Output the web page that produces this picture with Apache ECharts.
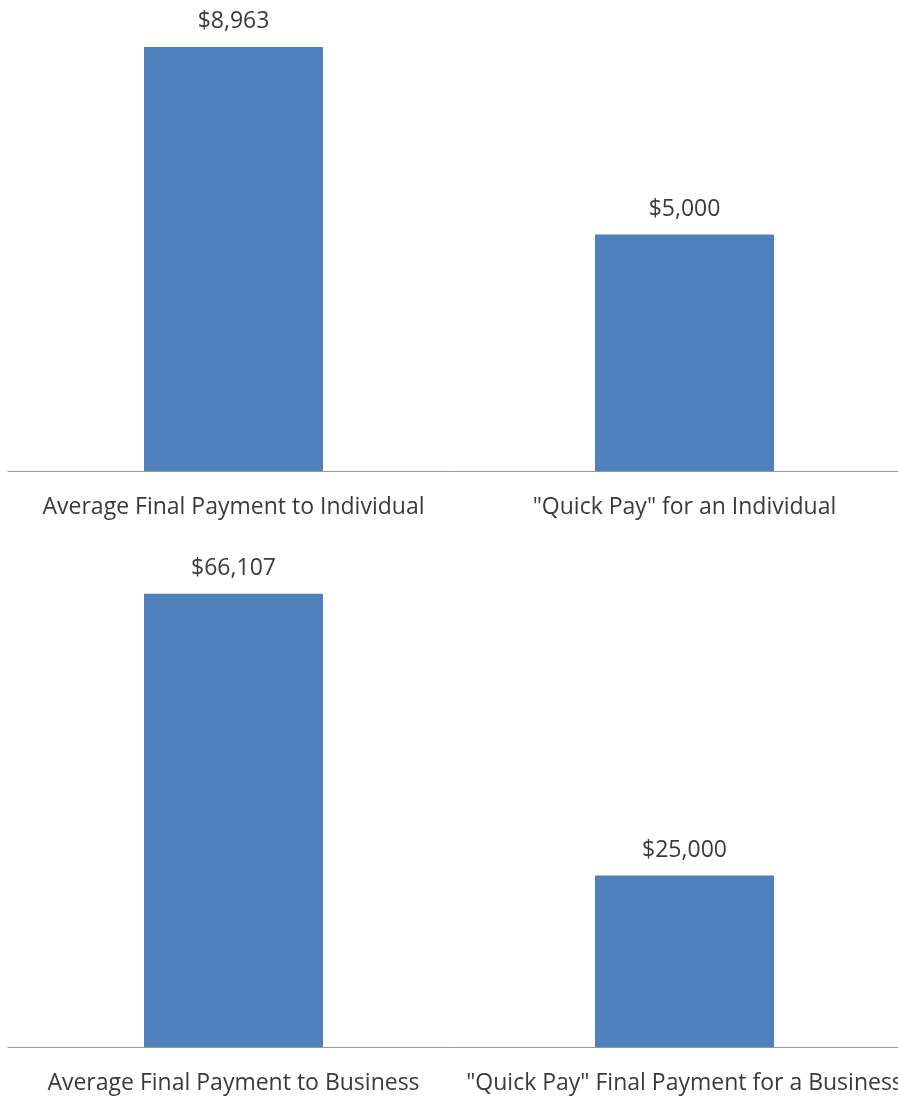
<!DOCTYPE html>
<html><head><meta charset="utf-8">
<script src="https://cdn.jsdelivr.net/npm/echarts@6/dist/echarts.min.js"></script>
<style>html,body{margin:0;padding:0;background:#fff}#c{width:898px;height:1099px}</style>
</head><body><div id="c"></div>
<script>
const topCategories = ['Average Final Payment to Individual', '"Quick Pay" for an Individual'];
const topValues = [8963, 5000];
const bottomCategories = ['Average Final Payment to Business', '"Quick Pay" Final Payment for a Business'];
const bottomValues = [66107, 25000];

const font = '"Open Sans", sans-serif';
const fmt = p => '$' + p.value.toLocaleString('en-US');
const xAxisBase = {
  type: 'category',
  axisLine: {lineStyle: {color: '#999', width: 1}},
  axisTick: {show: false},
  axisLabel: {color: '#3a3a3a', fontSize: 23, fontFamily: font, margin: 25, interval: 0}
};
const yAxisBase = {type: 'value', min: 0, show: false, splitLine: {show: false}};
const seriesBase = {
  type: 'bar', barWidth: 179,
  itemStyle: {color: '#4F81BD'},
  label: {show: true, position: 'top', distance: 14, color: '#3a3a3a', fontSize: 23, fontFamily: font, formatter: fmt},
  animation: false
};
const chart = echarts.init(document.getElementById('c'));
chart.setOption({
  animation: false,
  grid: [
    {left: 8, width: 902, top: -2, height: 473, outerBoundsMode: 'none', containLabel: false},
    {left: 8, width: 902, top: 567, height: 480, outerBoundsMode: 'none', containLabel: false}
  ],
  xAxis: [
    Object.assign({gridIndex: 0, data: topCategories}, xAxisBase),
    Object.assign({gridIndex: 1, data: bottomCategories}, xAxisBase)
  ],
  yAxis: [
    Object.assign({gridIndex: 0, max: 10000}, yAxisBase),
    Object.assign({gridIndex: 1, max: 70000}, yAxisBase)
  ],
  series: [
    Object.assign({xAxisIndex: 0, yAxisIndex: 0, data: topValues}, seriesBase),
    Object.assign({xAxisIndex: 1, yAxisIndex: 1, data: bottomValues}, seriesBase)
  ]
});
</script></body></html>
